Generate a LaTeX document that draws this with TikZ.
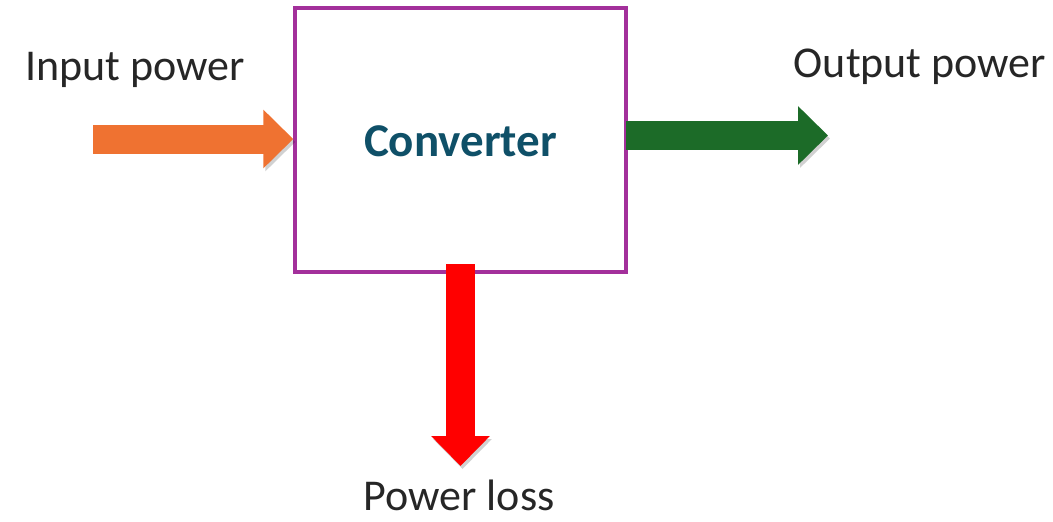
\documentclass[tikz,border=0pt]{standalone}
\usepackage{fontspec}
\setmainfont{Carlito}
\usetikzlibrary{arrows.meta}
\definecolor{boxpurple}{HTML}{A3309B}
\definecolor{convblue}{HTML}{0F5068}
\definecolor{inorange}{HTML}{EF7231}
\definecolor{outgreen}{HTML}{1C6B28}
\definecolor{lossred}{HTML}{FF0000}
\tikzset{
  conv/.style={draw=boxpurple, line width=3.5pt, minimum width=331pt, minimum height=264pt, inner sep=0pt, fill=white},
  lbl/.style={inner sep=0pt, text=black!85, font=\fontsize{44}{50}\selectfont},
  fatarrow/.style={line width=29pt, line cap=butt, -{Triangle[length=30pt,width=57pt]},
    preaction={draw=black, opacity=0.18, transform canvas={xshift=2pt,yshift=-3pt}}},
}
\begin{document}
\begin{tikzpicture}[x=1pt,y=-1pt]
\useasboundingbox (0,0) rectangle (1053,522);
\node[conv] (box) at (460.5,140) {};
\node[inner sep=0pt, text=convblue, font=\bfseries\fontsize{47}{52}\selectfont] (title) at (460.5,141) {Converter};
\coordinate (inStart) at (93,139);
\coordinate (outEnd) at (828,135.5);
\coordinate (outStart) at (626,135.5);
\coordinate (lossStart) at (460.5,264);
\coordinate (lossEnd) at (460.5,466);
\draw[fatarrow, draw=inorange] (inStart) -- (box.west |- inStart);
\draw[fatarrow, draw=outgreen] (outStart) -- (outEnd);
\draw[fatarrow, draw=lossred] (lossStart) -- (lossEnd);
\node[lbl] (inlbl) at (135,70) {Input power};
\node[lbl] (outlbl) at (920,67) {Output power};
\node[lbl] (losslbl) at (459,495) {Power loss};
\end{tikzpicture}
\end{document}
